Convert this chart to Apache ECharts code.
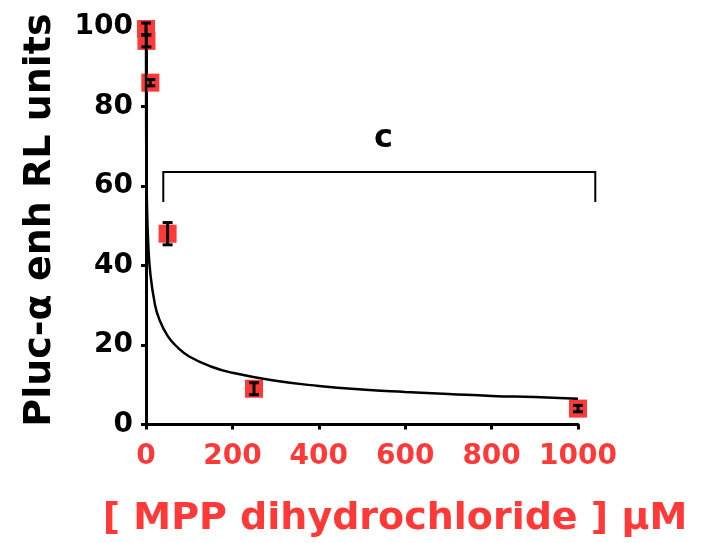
<!DOCTYPE html>
<html><head><meta charset="utf-8">
<script src="https://cdn.jsdelivr.net/npm/echarts@6/dist/echarts.min.js"></script>
<style>html,body{margin:0;padding:0;background:#fff}#c{width:712px;height:543px}</style>
</head><body><div id="c"></div>
<script>
// measured points (concentration µM, response, error)
const pointX = [0, 1, 10, 50, 250, 1000];
const pointY = [99.5, 96.5, 86, 48, 9, 4];
const pointErr = [1.5, 1.5, 0.8, 2.8, 1.5, 0.8];
// fitted curve
const curveX = [0, 0.2, 0.5, 1, 2, 5, 10, 20, 30, 50, 75, 100, 150, 200, 300, 400, 500, 600, 700, 800, 900, 1000];
const curveY = [100, 82, 71, 64, 56.5, 46, 38, 30.6, 26.7, 22.3, 19.2, 17.1, 14.6, 13, 11, 9.7, 8.8, 8.2, 7.7, 7.2, 6.9, 6.5];
// significance bracket
const bracketX = [40, 40, 1040, 1040];
const bracketY = [56, 63.5, 63.5, 56];
const bracketLabel = 'c';
const bracketLabelPos = [550, 72];
const xTicks = [0, 200, 400, 600, 800, 1000];
const yTicks = [0, 20, 40, 60, 80, 100];
const xTitle = '[ MPP dihydrochloride ] µM';
const yTitle = 'Pluc-α enh RL units';

const RED = '#ff3838';
const FONT = 'DejaVu Sans';
const chart = echarts.init(document.getElementById('c'));
chart.setOption({
  animation: false,
  grid: {left: 146, top: 27, width: 432, height: 397.5},
  xAxis: {
    type: 'value', min: xTicks[0], max: xTicks[xTicks.length - 1], interval: xTicks[1] - xTicks[0],
    axisLine: {lineStyle: {color: '#000', width: 3}},
    axisTick: {show: true, length: 5, lineStyle: {color: '#000', width: 3}},
    splitLine: {show: false},
    axisLabel: {color: RED, fontFamily: FONT, fontWeight: 'bold', fontSize: 28, margin: 18, formatter: v => String(v)}
  },
  yAxis: {
    type: 'value', min: yTicks[0], max: yTicks[yTicks.length - 1], interval: yTicks[1] - yTicks[0],
    axisLine: {show: true, lineStyle: {color: '#000', width: 3}},
    axisTick: {show: true, length: 5, lineStyle: {color: '#000', width: 3}},
    splitLine: {show: false},
    axisLabel: {color: '#000', fontFamily: FONT, fontWeight: 'bold', fontSize: 28, margin: 13, formatter: v => String(v)}
  },
  graphic: [
    {type: 'text', x: 395, y: 519, style: {text: xTitle, fill: RED, font: 'bold 38px "DejaVu Sans"', textAlign: 'center', textVerticalAlign: 'middle'}},
    {type: 'text', x: 40, y: 220, rotation: Math.PI / 2, style: {text: yTitle, fill: '#000', font: 'bold 38px "DejaVu Sans"', textAlign: 'center', textVerticalAlign: 'middle'}}
  ],
  series: [
    {
      type: 'line', data: curveX.map((x, i) => [x, curveY[i]]),
      symbol: 'none', smooth: true, lineStyle: {color: '#000', width: 2.5}, z: 3
    },
    {
      type: 'scatter', data: pointX.map((x, i) => [x, pointY[i]]),
      symbol: 'rect', symbolSize: 18, itemStyle: {color: RED, opacity: 1}, z: 2
    },
    {
      type: 'custom', z: 4,
      data: pointX.map((x, i) => [x, pointY[i], pointErr[i]]),
      renderItem: function (params, api) {
        const x = api.value(0), y = api.value(1), e = api.value(2);
        const top = api.coord([x, y + e]);
        const bot = api.coord([x, y - e]);
        const w = 5;
        const st = {stroke: '#000', lineWidth: 3};
        return {type: 'group', children: [
          {type: 'line', shape: {x1: top[0], y1: top[1], x2: bot[0], y2: bot[1]}, style: st},
          {type: 'line', shape: {x1: top[0] - w, y1: top[1], x2: top[0] + w, y2: top[1]}, style: st},
          {type: 'line', shape: {x1: bot[0] - w, y1: bot[1], x2: bot[0] + w, y2: bot[1]}, style: st}
        ]};
      }
    },
    {
      type: 'custom', z: 3, clip: false,
      data: [0],
      renderItem: function (params, api) {
        const pts = bracketX.map((x, i) => api.coord([x, bracketY[i]]));
        const lp = api.coord(bracketLabelPos);
        return {type: 'group', children: [
          {type: 'polyline', shape: {points: pts}, style: {stroke: '#000', lineWidth: 2, fill: null}},
          {type: 'text', x: lp[0], y: lp[1], style: {text: bracketLabel, fill: '#000', font: 'bold 32px "DejaVu Sans"', textAlign: 'center', textVerticalAlign: 'middle'}}
        ]};
      }
    }
  ]
});
</script></body></html>
